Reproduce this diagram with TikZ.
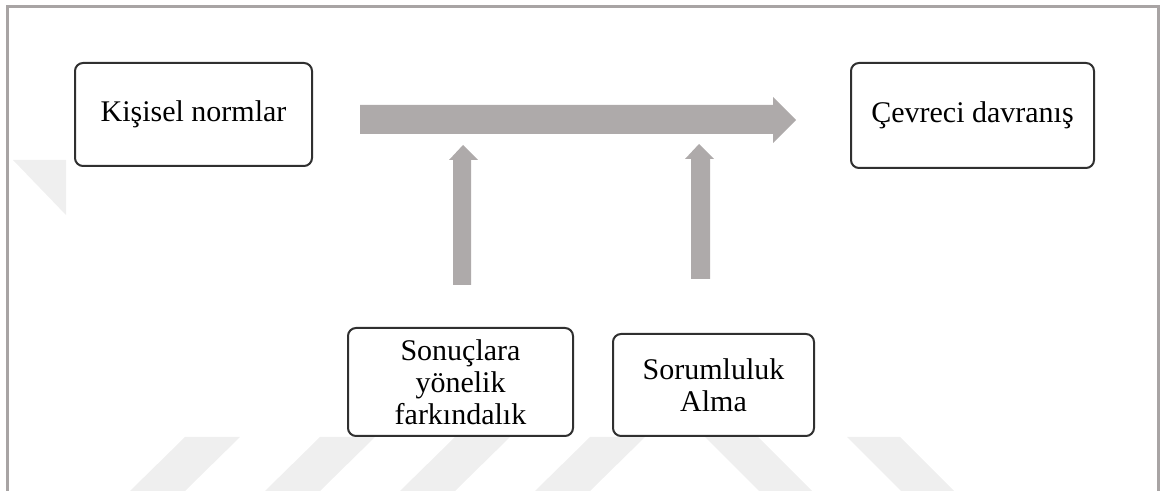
\documentclass[tikz,border=0pt]{standalone}
\usepackage{fontspec}
\setmainfont{Liberation Serif}
\usetikzlibrary{positioning}

\definecolor{arrowgray}{HTML}{AEAAAA}
\definecolor{framegray}{HTML}{A8A4A4}
\definecolor{markgray}{HTML}{EFEFEF}
\definecolor{boxline}{HTML}{303030}

\tikzset{
    conceptbox/.style={draw=boxline, line width=1pt, rounded corners=4pt, fill=white,
        align=center, inner sep=0pt, font=\fontsize{15}{16}\selectfont},
}

\begin{document}
\begin{tikzpicture}[x=0.5pt, y=-0.5pt]
        \useasboundingbox (0,0) rectangle (1162,491);

        % Watermark
        \fill[markgray] (13,160) -- (66,160) -- (66,215) -- cycle;
        \foreach \x in {185,320,455,590}
            \fill[markgray] (\x,437) -- (\x+55,437) -- (\x,491) -- (\x-55,491) -- cycle;
        \foreach \x in {705,847}
            \fill[markgray] (\x,437) -- (\x+53,437) -- (\x+107,491) -- (\x+54,491) -- cycle;

        % Frame
        \draw[framegray, line width=1.5pt] (7,491) -- (7,7) -- (1158,7) -- (1158,491);

        % Boxes
        \node[conceptbox, minimum width=118.5pt, minimum height=51.5pt] (normlar) at (193.5,114.5) {Kişisel normlar};
        \node[conceptbox, minimum width=121.5pt, minimum height=52.5pt] (davranis) at (972.5,115.5) {Çevreci davranış};
        \node[conceptbox, minimum width=112.5pt, minimum height=54pt] (sonuc) at (460.5,382) {Sonuçlara\\yönelik\\farkındalık};
        \node[conceptbox, minimum width=100.5pt, minimum height=51pt] (sorum) at (713.5,385) {Sorumluluk\\Alma};

        % Block arrows
        \fill[arrowgray] (360,105) -- (773,105) -- (773,97) -- (796,120) -- (773,143) -- (773,134) -- (360,134) -- cycle;
        \fill[arrowgray] (453,285) -- (453,160) -- (449,160) -- (463,145) -- (478,160) -- (471,160) -- (471,285) -- cycle;
        \fill[arrowgray] (691,279) -- (691,159) -- (685,159) -- (699,144) -- (714,159) -- (710,159) -- (710,279) -- cycle;

\end{tikzpicture}
\end{document}
